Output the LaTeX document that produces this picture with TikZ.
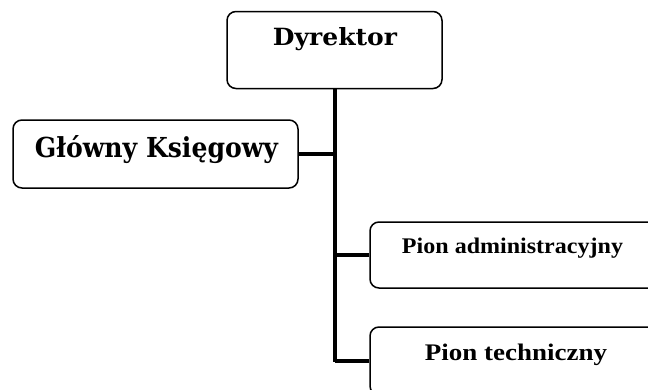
\documentclass[tikz,border=0pt]{standalone}
\usepackage{fontspec}
\setmainfont{Liberation Serif}
\newfontfamily\slabfont{DejaVu Serif}
\usepackage{graphicx}
\begin{document}
\begin{tikzpicture}[x=1pt,y=-1pt,
  box/.style={draw=black,line width=1.5pt,rounded corners=9pt,rectangle,inner sep=0pt},
  conn/.style={draw=black,line width=4pt},
  lbl/.style={inner sep=0pt,anchor=base}]
\useasboundingbox[fill=white] (0,0) rectangle (648,389);
\node[box,minimum width=215pt,minimum height=77pt] (dyr) at (334.5,50) {};
\node[box,minimum width=285pt,minimum height=68pt] (glo) at (155.5,154) {};
\node[box,minimum width=290pt,minimum height=66pt] (adm) at (515,255) {};
\node[box,minimum width=290pt,minimum height=68pt] (tech) at (515,361) {};
\node[lbl] (tdyr) at (335,45) {\resizebox{124pt}{18pt}{\slabfont\bfseries Dyrektor}};
\node[lbl] (tglo) at (156.5,157) {\resizebox{243pt}{22pt}{\slabfont\bfseries Główny Księgowy}};
\node[lbl] (tadm) at (512.5,253) {\resizebox{221pt}{15.5pt}{\bfseries Pion administracyjny}};
\node[lbl] (ttech) at (516,360) {\resizebox{182pt}{16.5pt}{\bfseries Pion techniczny}};
\coordinate (bot) at ([yshift=-1]dyr.south |- tech.west);
\draw[conn] (dyr.south) -- (bot);
\draw[conn] (glo.east) -- (glo.east -| dyr.south);
\draw[conn] (adm.west) -- (adm.west -| dyr.south);
\draw[conn] (tech.west) -- (tech.west -| dyr.south);
\end{tikzpicture}
\end{document}
